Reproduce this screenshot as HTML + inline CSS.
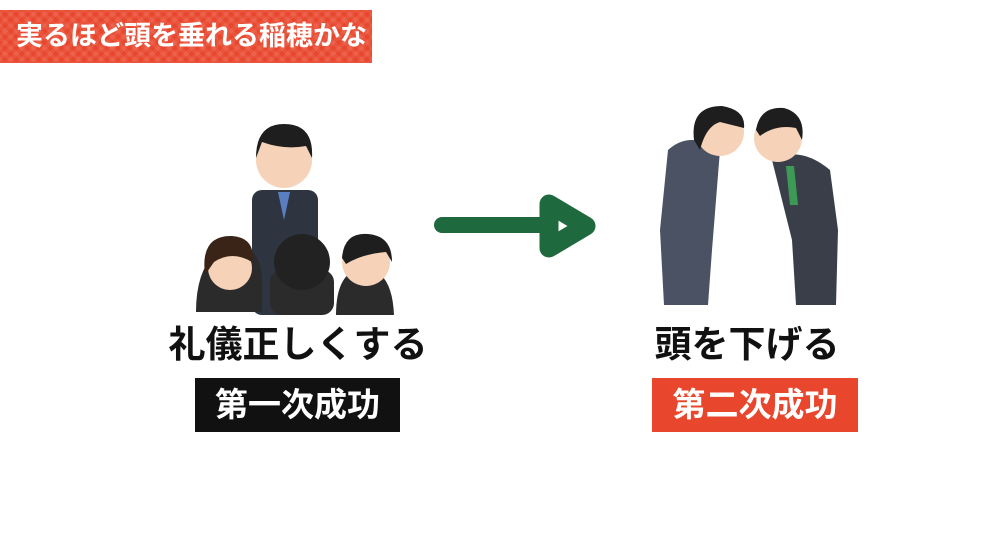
<!DOCTYPE html>
<html><head><meta charset="utf-8"><style>
body{margin:0;width:997px;height:537px;background:#fff;overflow:hidden;position:relative;font-family:"Liberation Sans","Noto Sans CJK JP",sans-serif;}
.banner{position:absolute;left:0;top:10px;width:372px;height:53px;background:#e8462d;
background-image:repeating-linear-gradient(45deg,rgba(255,255,255,.08) 0 4px,transparent 4px 8px),repeating-linear-gradient(-45deg,rgba(255,255,255,.08) 0 4px,transparent 4px 8px);
color:#fff;font-weight:bold;font-size:27px;line-height:53px;padding-left:16px;box-sizing:border-box;letter-spacing:0px}
.t{position:absolute;font-weight:bold;font-size:37px;color:#111;text-align:center;line-height:1}
.box{position:absolute;color:#fff;font-weight:bold;font-size:33px;text-align:center;line-height:54px;height:54px}
</style></head><body>
<div class="banner">実るほど頭を垂れる稲穂かな</div>
<svg width="997" height="537" style="position:absolute;left:0;top:0">
<g>
<rect x="252" y="190" width="66" height="125" rx="10" fill="#2e3440"/>
<circle cx="284" cy="160" r="28" fill="#f6d3b8"/>
<path d="M256 158 Q256 124 284 124 Q314 124 312 158 L306 146 Q284 150 262 142Z" fill="#1e1e1e"/>
<polygon points="278,192 290,192 284,220" fill="#5a7fc0"/>
<path d="M196 312 Q196 265 222 248 Q256 236 262 275 L262 312Z" fill="#2b2b2b"/>
<circle cx="230" cy="268" r="22" fill="#f6d3b8"/>
<path d="M205 275 Q200 235 232 236 Q256 238 252 262 Q232 250 214 262Z" fill="#3a2418"/>
<rect x="270" y="270" width="64" height="45" rx="12" fill="#2b2b2b"/>
<circle cx="302" cy="262" r="28" fill="#222"/>
<path d="M336 315 Q336 272 362 268 Q392 268 394 315Z" fill="#2b2b2b"/>
<circle cx="366" cy="262" r="24" fill="#f6d3b8"/>
<path d="M342 258 Q344 232 368 234 Q392 236 392 262 L386 252 Q362 254 346 264Z" fill="#1e1e1e"/>
</g>
<line x1="442" y1="225" x2="548" y2="225" stroke="#1e6a3e" stroke-width="16" stroke-linecap="round"/>
<polygon points="549,204 549,248 586,226" fill="none" stroke="#1e6a3e" stroke-width="19" stroke-linejoin="round"/>
<g>
<path d="M668 150 Q690 130 720 150 L712 250 L708 305 L664 305 L660 230Z" fill="#4b5263"/>
<circle cx="720" cy="132" r="24" fill="#f6d3b8"/>
<path d="M694 140 Q690 106 722 106 Q746 110 744 128 L720 122 Q706 126 700 150Z" fill="#1e1e1e"/>
<path d="M772 160 Q800 145 830 170 L838 230 L836 305 L796 305 L792 240Z" fill="#393e48"/>
<circle cx="778" cy="138" r="24" fill="#f6d3b8"/>
<path d="M756 130 Q760 106 784 108 Q806 114 802 140 L796 128 Q776 124 760 136Z" fill="#1e1e1e"/>
<polygon points="786,166 794,166 798,205 790,205" fill="#3c9a55"/>
</g>
</svg>
<div class="t" style="left:150px;width:296px;top:326px">礼儀正しくする</div>
<div class="box" style="left:195px;top:378px;width:205px;background:#111">第一次成功</div>
<div class="t" style="left:600px;width:294px;top:326px">頭を下げる</div>
<div class="box" style="left:652px;top:378px;width:206px;background:#e8462d">第二次成功</div>
</body></html>
